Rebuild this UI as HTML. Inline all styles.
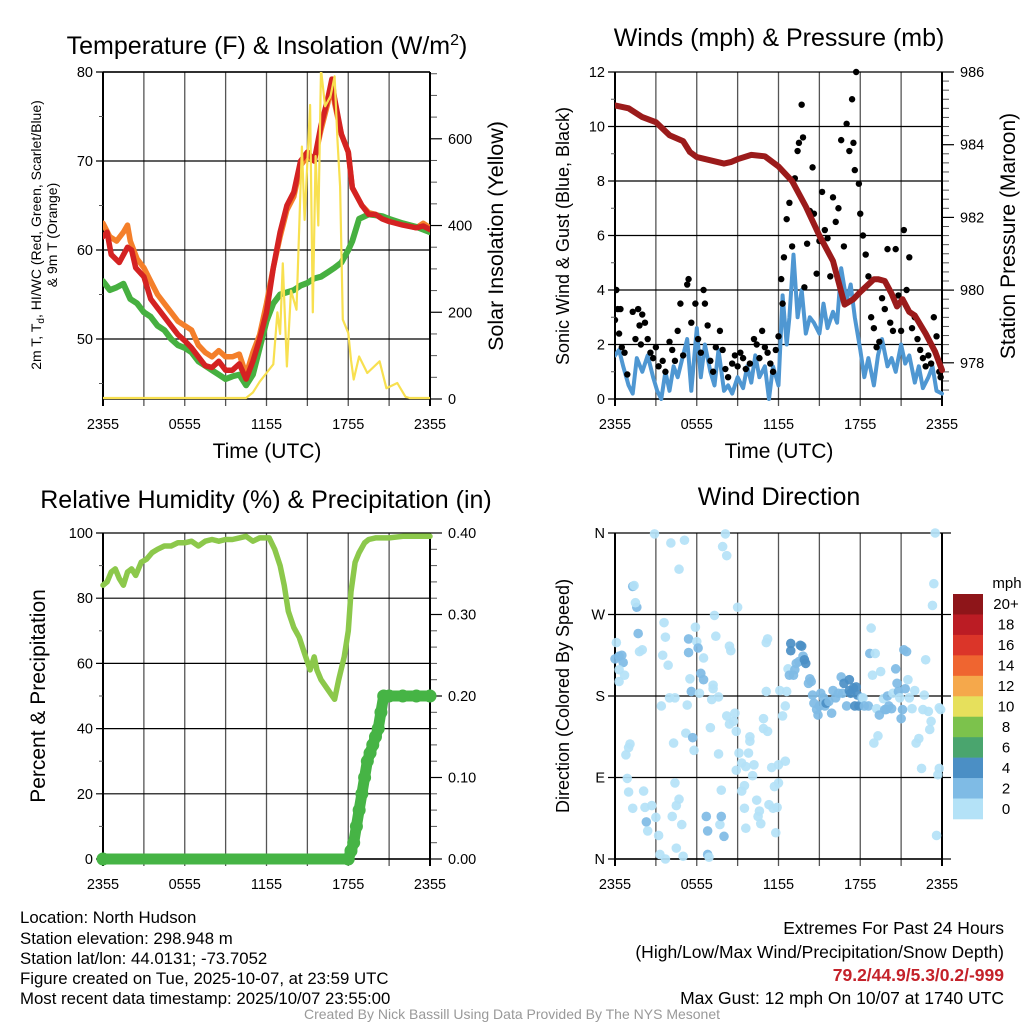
<!DOCTYPE html>
<html><head><meta charset="utf-8"><style>
body{margin:0;background:#fff;}
svg{display:block;font-family:"Liberation Sans",Arial,sans-serif;}
</style></head><body>
<svg id="s" width="1024" height="1024" viewBox="0 0 1024 1024" xmlns="http://www.w3.org/2000/svg">
<rect width="1024" height="1024" fill="#fff"/>
<g id="g1"></g>
<g id="g2"></g>
<g id="g3"></g>
<g id="g4"></g>
<text x="267" y="54" font-size="25" text-anchor="middle">Temperature (F) &amp; Insolation (W/m<tspan dy="-9" font-size="16">2</tspan><tspan dy="9">)</tspan></text>
<text x="779" y="46" font-size="25" text-anchor="middle">Winds (mph) &amp; Pressure (mb)</text>
<text x="266" y="508" font-size="25" text-anchor="middle">Relative Humidity (%) &amp; Precipitation (in)</text>
<text x="779" y="505" font-size="25" text-anchor="middle">Wind Direction</text>
<text x="267" y="458" font-size="21" text-anchor="middle">Time (UTC)</text>
<text x="779" y="458" font-size="21" text-anchor="middle">Time (UTC)</text>
<text transform="translate(41,235) rotate(-90)" font-size="14" text-anchor="middle"><tspan x="0" y="0">2m T, T<tspan font-size="10" dy="3">d</tspan><tspan dy="-3">, HI/WC (Red, Green, Scarlet/Blue)</tspan></tspan><tspan x="0" y="16">&amp; 9m T (Orange)</tspan></text>
<text transform="translate(503,236) rotate(-90)" font-size="21.5" text-anchor="middle">Solar Insolation (Yellow)</text>
<text transform="translate(569,236) rotate(-90)" font-size="18" text-anchor="middle">Sonic Wind &amp; Gust (Blue, Black)</text>
<text transform="translate(1015,236) rotate(-90)" font-size="21" text-anchor="middle">Station Pressure (Maroon)</text>
<text transform="translate(45,696) rotate(-90)" font-size="21" text-anchor="middle">Percent &amp; Precipitation</text>
<text transform="translate(569,696) rotate(-90)" font-size="18" text-anchor="middle">Direction (Colored By Speed)</text>
<g font-size="16.8">
<text x="20" y="923">Location: North Hudson</text>
<text x="20" y="944">Station elevation: 298.948 m</text>
<text x="20" y="964">Station lat/lon: 44.0131; -73.7052</text>
<text x="20" y="984">Figure created on Tue, 2025-10-07, at 23:59 UTC</text>
<text x="20" y="1004">Most recent data timestamp: 2025/10/07 23:55:00</text>
</g>
<g font-size="17.5" text-anchor="end">
<text x="1004" y="934">Extremes For Past 24 Hours</text>
<text x="1004" y="958">(High/Low/Max Wind/Precipitation/Snow Depth)</text>
<text x="1004" y="981" fill="#c4222a" font-weight="bold">79.2/44.9/5.3/0.2/-999</text>
<text x="1004" y="1004">Max Gust: 12 mph On 10/07 at 1740 UTC</text>
</g>
<text x="512" y="1019" font-size="14" fill="#999" text-anchor="middle">Created By Nick Bassill Using Data Provided By The NYS Mesonet</text>
</svg>
<script>
// ---- Temperature panel data (hours since 2355, value) ----
const tempRedH=[0,.3,.6,1.2,1.8,2.1,2.4,3,3.5,4,4.5,5,5.5,6,6.5,7,7.5,8,8.5,9,9.5,10,10.5,11,11.5,12,12.5,13,13.5,14,14.5,15,15.5,16,16.5,16.8,17,17.5,18,18.3,19,19.5,20,20.5,21,22,23,23.5,24];
const tempRedV=[61.5,62,59.5,58.6,60.3,60,58,57,54.5,53.5,52.5,51.5,50.5,49.8,49,48,47,46.8,47.5,46.5,46.5,47.2,45.5,47.5,50,53,58,62,65,66.5,70,71,70,74,77,79.2,77,73,71,67,65,64,64,63.5,63.2,62.8,62.5,62.7,62.3];
const tempOrgH=[0,.5,1,1.5,1.8,2,2.5,3,3.5,4,4.5,5,5.5,6,6.5,7,7.5,8,8.5,9,9.5,10,10.5,11,11.5,12,12.5,13,13.5,14,14.5,15,15.5,16,16.5,16.8,17,17.5,18,18.3,19,19.5,20,21,22,23,23.5,24];
const tempOrgV=[63,61.5,61,62,62.8,61,59,58,56.5,55,54,53,52,51.5,51,49.3,48.5,48,48.7,48,48,48.3,46,48.5,50.5,54,58,61.5,64.5,66,69.5,70.5,70,73.5,76.5,78.8,76.5,73,71,67,65,64.2,64,63.4,62.9,62.5,63,62.5];
const tempGrnH=[0,.5,1,1.5,2,2.5,3,3.5,4,4.5,5,5.5,6,6.5,7,7.5,8,8.5,9,9.5,10,10.5,11,11.5,12,12.5,13,14,14.5,15,15.5,16,16.5,17,17.5,18,18.3,18.8,19.5,20.5,21,22,23,24];
const tempGrnV=[56.5,55.5,55.8,56.2,54.5,54,53,52.5,51.5,51,50,49.3,49,48.5,47.5,47,46.5,46,45.5,45.8,46,44.8,46,49,52,54,55,55.5,56,56.3,56.8,57,57.5,58,58.6,60,61,63.5,64,63.8,63.5,63,62.6,62];
const solarH=[0,10.5,11,11.5,12,12.5,12.8,13,13.2,13.5,13.8,14.2,14.6,14.8,15.2,15.4,15.6,15.8,16,16.3,16.7,17,17.2,17.4,17.6,18,18.2,18.4,18.8,19.4,20.3,20.8,21.6,22.2,22.5,24];
const solarV=[0,0,15,40,60,80,200,150,313,75,250,206,582,413,678,200,560,400,760,675,698,744,600,490,183,152,90,45,98,60,87,25,37,5,0,0];
// ---- Wind panel data ----
const windH=[0,.3,.6,1,1.3,1.6,2,2.4,2.8,3.1,3.4,3.7,4,4.3,4.6,5,5.3,5.6,6,6.3,6.6,7,7.3,7.6,8,8.3,8.6,9,9.4,9.7,10,10.3,10.6,11,11.3,11.6,12,12.3,12.6,12.8,13.1,13.4,13.7,14,14.3,14.6,15,15.3,15.6,16,16.3,16.6,17,17.3,17.6,18,18.3,18.6,19,19.3,19.6,20,20.3,20.6,21,21.3,21.6,22,22.3,22.6,23,23.3,23.6,24];
const windV=[1.6,1.8,1.2,.5,.2,1.5,1,1.6,.8,.3,0,1,.3,1.2,.8,1.6,2.2,.3,2.6,.8,2,1,.5,1.8,.3,.5,.2,.8,.4,1.2,.6,1.6,.8,1.2,0,1.2,.5,3.8,2,3,5.3,3,4,2.4,3,2.8,2.4,3.5,2.6,3.2,2.8,4.8,3.6,4.2,3,1.8,.8,1.5,.5,1.6,2.2,1.2,1.5,1,2,1.3,1.6,.6,1.2,.4,.8,1.2,.3,.2];
const gustH=[0,.1,.2,.3,.4,.5,.7,.9,1.3,1.5,1.7,1.8,1.9,2,2.2,2.4,2.6,2.8,3,3.2,3.5,3.7,4,4.2,4.4,4.6,4.8,5,5.3,5.4,5.6,5.9,6.1,6.3,6.5,6.6,6.8,7,7.2,7.4,7.7,7.9,8.1,8.3,8.6,8.8,9,9.2,9.4,9.6,9.9,10.2,10.4,10.6,10.8,11,11.2,11.4,11.6,11.8,12,12.2,12.3,12.4,12.6,12.8,13,13.2,13.4,13.5,13.7,13.8,13.9,14.1,14.3,14.5,14.6,14.8,15,15.2,15.4,15.6,15.8,16,16.2,16.4,16.6,16.8,17,17.2,17.4,17.5,17.6,17.7,17.9,18,18.2,18.4,18.6,18.8,19,19.2,19.4,19.6,19.8,20,20.2,20.4,20.6,20.8,21,21.2,21.4,21.6,21.8,22,22.2,22.4,22.6,22.8,23,23.2,23.4,23.6,23.8,23.9];
const gustV=[2.9,4,3.3,2.4,3.3,1.9,1.7,.9,3.2,2.2,3.3,2.7,2,3.1,2.8,2.2,1.7,1.5,1.9,1.2,1.4,1,2.1,1.8,1.4,2.5,3.5,1.6,4.2,4.4,2.8,3.5,2.2,1.7,4,3.5,2.7,1.4,1,1.9,2.5,1.8,1.1,.8,1.3,1.6,1.2,1.7,1.5,1.1,1.3,2.2,2,1.5,2.5,1.9,1.7,1.3,1,1.8,2.3,4.4,3.5,5.2,6.6,7.2,5.6,8.1,9.1,9.4,10.8,9.6,4.1,5.7,6.9,8.5,6.8,4.6,5.8,7.6,6.2,5.9,4.5,7.4,6.5,7,9.5,5.6,10.1,9.1,11,9.4,8.4,12,7.9,6.8,6,5.3,4.5,3,2.6,1.9,2.1,3.7,3.3,5.5,2.8,2.5,5.5,3.8,2.5,6.2,4,5.2,2.6,3,2.2,1.8,1.5,1.2,1.6,1.3,3,2.3,1,.8];
const presH=[0,1,2,3,4,5,5.5,6,7,8,8.5,9,10,11,12,13,14,15,16,16.85,17.5,18,19,19.3,19.8,20.3,20.7,21.1,21.6,22,22.8,23.5,24];
const presV=[985.08,985.0,984.76,984.62,984.26,984.1,983.8,983.66,983.57,983.48,983.52,983.6,983.72,983.68,983.4,983.0,982.3,981.5,980.8,979.6,979.75,979.95,980.3,980.3,980.25,979.9,979.55,979.75,979.4,979.3,978.8,978.3,977.8];
// ---- Humidity panel data ----
const rhH=[0,.3,.6,.9,1.2,1.5,1.8,2.1,2.4,2.8,3.2,3.6,4,4.5,5,5.5,6,6.5,7,7.5,8,8.5,9,9.5,10,10.5,11,11.5,12.2,12.6,13,13.3,13.6,14,14.4,14.8,15.2,15.5,15.7,16,16.5,17,17.3,17.7,18,18.2,18.5,18.8,19.2,19.5,20,21,22,24];
const rhV=[84,85,88,89,86,84,88,89,87,91,92,94,95,96,96,97,97,97.5,96,97.5,98,97.5,98,98,98.5,99,97.5,98.5,98.5,95,90,84,76,71,68,63,58,62,58,55,52,49,55,62,70,82,91,94,97,98,98.5,98.5,99,99];
const precipH=[0,18,18.2,18.4,18.6,18.8,19,19.2,19.4,19.6,19.8,20,20.2,20.4,20.6,21,22,23,24];
const precipV=[0,0,.01,.02,.04,.06,.08,.1,.12,.13,.14,.15,.16,.18,.2,.2,.2,.2,.2];
// ---- Wind direction data ----
const dirH=[0,.1,.3,.5,.6,.3,.3,.7,1.3,1.4,1.6,1.5,1.7,1.8,2,.8,1,1.1,.9,1,1.3,2.1,2.2,2.3,2.4,2.7,3,3.2,2.9,3.3,3.7,3.4,3.6,3.7,3.9,3.5,4.1,5.1,4.7,4,4.4,4.3,4.4,4.7,4.5,4.2,4.9,4.5,5,5.2,5.3,5.4,5.4,5.6,5.5,5.7,5.8,5.9,6,6.1,6.2,6.3,6.5,6.5,6.7,6.8,6.8,6.9,7,7.1,7.2,7.2,7.3,7.4,7.6,7.6,7.7,7.8,7.8,8,7.9,8.1,8.2,8.2,8.4,8.5,8.4,8.7,8.8,8.9,8.9,9,9.1,9.3,9.3,9.5,9.5,9.6,9.6,9.8,9.9,9.9,10.1,10.2,10.4,10.5,10.6,10.7,10.9,10.9,11.1,11.1,11.2,11.2,11.3,11.5,11.6,11.7,11.8,11.9,12,12,12.1,12.3,12.5,12.5,12.6,12.7,12.8,12.9,12.9,13.1,13.2,13.3,13.5,13.6,13.7,13.8,13.9,14,14.2,14.3,14.4,14.5,14.6,14.8,14.9,15,15.1,15.3,15.4,15.5,15.7,15.9,16,16.2,16.4,16.6,16.7,16.8,17,17.2,17.2,17.3,17.5,17.6,17.7,17.8,17.9,18.1,18.2,18.3,18.6,18.7,18.8,18.9,19,19.1,19.2,19.3,19.4,19.5,19.7,19.8,19.9,20,20.1,20.3,20.4,20.6,20.7,20.8,20.9,21,21.1,21.2,21.3,21.4,21.5,21.6,21.8,22,22.1,22.3,22.5,22.6,22.7,22.8,23,23.1,23.2,23.3,23.4,23.5,23.6,23.7,23.8,23.8,23.9];
const dirDeg=[221,239,224,225,217,209,196,203,301,302,278,283,249,229,231,115,123,127,89,74,56,75,57,41,31,59,46,26,359,5,0,169,261,245,214,225,349,352,320,178,178,128,84,66,59,47,38,12,3,139,170,243,228,185,199,134,120,256,240,233,183,205,198,222,47,31,5,2,145,176,192,188,269,246,179,116,38,47,76,25,345,359,335,158,235,230,149,152,161,98,141,278,117,106,75,56,81,34,102,117,130,135,92,104,65,47,53,39,155,144,185,239,243,141,60,101,56,80,29,57,84,104,186,158,169,108,185,210,203,230,238,203,209,216,218,236,235,224,220,216,194,199,196,181,172,165,159,169,183,178,169,172,174,161,186,178,183,201,183,194,169,198,186,183,189,169,190,181,169,178,178,169,169,227,255,203,128,227,166,136,159,207,177,165,165,180,169,166,183,210,194,185,178,155,165,231,188,229,198,178,166,186,128,133,100,165,181,220,163,143,152,280,304,360,26,93,100,167,165];
const dirSpd=[3,1,3,3,3,1,1,1,3,1,3,1,3,1,1,1,1,1,1,1,1,1,1,3,1,1,1,1,1,1,1,1,1,1,1,1,1,1,1,1,1,1,1,1,1,1,1,1,1,1,1,3,3,3,1,3,1,1,1,3,1,3,3,1,3,3,3,1,1,1,1,1,1,1,1,1,1,3,1,3,1,1,1,1,1,1,1,1,1,1,1,1,1,1,1,1,1,1,1,1,1,1,1,1,1,1,1,1,1,1,1,1,1,1,1,1,1,1,1,1,1,1,1,1,1,1,1,1,3,5,5,3,3,3,3,5,5,3,5,5,3,3,3,3,3,3,3,3,3,3,3,5,3,3,3,3,3,3,3,5,3,5,5,5,5,5,5,5,5,3,1,3,3,3,1,1,1,1,1,1,3,1,1,3,3,3,3,3,1,3,3,3,1,3,3,3,3,3,1,1,1,1,1,1,1,1,1,1,1,1,1,1,1,1,1,1,1,1,1];
const spdLevels=["20+","18","16","14","12","10","8","6","4","2","0"];
const spdColors=["#8e1519","#bb1c24","#db3529","#ef6530","#f5a84b","#e6e05c","#7cc24c","#4aa56e","#4b8fc5","#7fbbe5","#b4e2f7"];
const timeLabels=["2355","0555","1155","1755","2355"];

const NS="http://www.w3.org/2000/svg";
function mk(p,tag,attrs){const e=document.createElementNS(NS,tag);for(const k in attrs)e.setAttribute(k,attrs[k]);p.appendChild(e);return e;}
function txt(p,x,y,s,size,anchor){const t=mk(p,'text',{x:x,y:y,'font-size':size,'text-anchor':anchor});t.textContent=s;return t;}
const L1=103,R1=430,L2=615,R2=942,T1=72,B1=399,T2=533,B2=859;
function xs(L,R){return h=>L+h/24*(R-L);}
function ys(T,B,lo,hi){return v=>B-(v-lo)/(hi-lo)*(B-T);}
function frame(g,L,R,T,B,leftTicks,rightTicks,leftMinor,rightMinor,xlab){
  for(let i=0;i<=8;i++){const x=L+i*(R-L)/8;
    const l=mk(g,'line',{x1:x,x2:x,y1:T,y2:B+7,stroke:i%8==0?'#000':'#555','stroke-width':i%8==0?2:1.3});
    
    }
  leftTicks.forEach(([y,s])=>{const l=mk(g,'line',{x1:L-7,x2:R,y1:y,y2:y,stroke:'#000','stroke-width':1.2});
    
    
    const t=txt(g,L-10,y+5,s,14.5,'end');
    
    });
  leftMinor.forEach(y=>mk(g,'line',{x1:L-4,x2:L,y1:y,y2:y,stroke:'#555','stroke-width':1}));
  rightTicks.forEach(([y,s])=>{mk(g,'line',{x1:R,x2:R+12,y1:y,y2:y,stroke:'#000','stroke-width':1.2});
    const t=txt(g,R+18,y+5,s,14.5,'start');
    
    });
  rightMinor.forEach(y=>mk(g,'line',{x1:R,x2:R+7,y1:y,y2:y,stroke:'#555','stroke-width':1}));
  mk(g,'line',{x1:L,x2:R,y1:B,y2:B,stroke:'#000','stroke-width':1.5});
  mk(g,'line',{x1:R,x2:R,y1:T,y2:B,stroke:'#000','stroke-width':2});
  xlab.forEach((s,i)=>{const t=txt(g,L+i*(R-L)/4,B+30,s,14.5,'middle');
    
    });
}
function line(g,H,V,x,y,col,w,name){const d=H.map((h,i)=>(i?'L':'M')+x(h).toFixed(1)+','+y(V[i]).toFixed(1)).join('');
  const p=mk(g,'path',{d:d,fill:'none',stroke:col,'stroke-width':w,'stroke-linejoin':'round','stroke-linecap':'round'});
  
  return p;}

// Panel 1
(function(){const g=document.getElementById('g1');const x=xs(L1,R1);
  const yt=v=>B1-(v-43.26)/(80-43.26)*(B1-T1);const ys2=v=>B1-v/754*(B1-T1);
  const lt=[50,60,70,80].map(v=>[yt(v),String(v)]);
  const lm=[45,55,65,75].map(yt);
  const rt=[0,200,400,600].map(v=>[ys2(v),String(v)]);
  const rm=[50,100,150,250,300,350,450,500,550,650,700,750].map(ys2);
  frame(g,L1,R1,T1,B1,lt,rt,lm,rm,timeLabels);
  mk(g,'line',{x1:L1,x2:R1,y1:T1,y2:T1,stroke:'#000','stroke-width':1.5});
  const clip=mk(g,'clipPath',{id:'c1'});mk(clip,'rect',{x:L1,y:T1,width:R1-L1,height:B1-T1+2});
  const pg=mk(g,'g',{'clip-path':'url(#c1)'});
  line(pg,tempOrgH,tempOrgV,x,yt,'#f47f2a',5.5,'temp-9m-line');
  line(pg,tempGrnH,tempGrnV,x,yt,'#46b040',6,'dewpoint-line');
  line(pg,tempRedH,tempRedV,x,yt,'#d42222',5.5,'temp-2m-line');
  line(pg,solarH,solarV,x,v=>Math.min(ys2(v),B1-1),'#f8e050',2.2,'solar-line');
})();
// Panel 2
(function(){const g=document.getElementById('g2');const x=xs(L2,R2);const yw=ys(T1,B1,0,12);
  const yp=v=>T1+(986-v)/2*72.7;
  const lt=[0,2,4,6,8,10,12].map(v=>[yw(v),String(v)]);
  const lm=[1,3,5,7,9,11].map(yw);
  const rt=[978,980,982,984,986].map(v=>[yp(v),String(v)]);
  const rm=[];for(let v=977.25;v<986;v+=0.25){if(Math.abs(v-Math.round(v/2)*2)>0.01)rm.push(yp(v));}
  frame(g,L2,R2,T1,B1,lt,rt,lm,rm.filter(y=>y<B1),timeLabels);
  const clip=mk(g,'clipPath',{id:'c2'});mk(clip,'rect',{x:L2,y:T1-4,width:R2-L2+4,height:B1-T1+6});
  const pg=mk(g,'g',{'clip-path':'url(#c2)'});
  line(pg,windH,windV,x,yw,'#4f97d2',4,'sonic-wind-line');
  gustH.forEach((h,i)=>{const c=mk(pg,'circle',{cx:x(h),cy:yw(gustV[i]),r:3.2,fill:'#000'});
    
    });
  line(pg,presH,presV,x,yp,'#9b1b1b',6,'pressure-line');
})();
// Panel 3
(function(){const g=document.getElementById('g3');const x=xs(L1,R1);const yr=ys(T2,B2,0,100);const yq=ys(T2,B2,0,0.4);
  const lt=[0,20,40,60,80,100].map(v=>[yr(v),String(v)]);
  const lm=[10,30,50,70,90].map(yr);
  const rt=[0,.1,.2,.3,.4].map(v=>[yq(v),v.toFixed(2)]);
  const rm=[];for(let v=0.02;v<0.4;v+=0.02){if(Math.abs(v*10-Math.round(v*10))>0.01)rm.push(yq(v));}
  frame(g,L1,R1,T2,B2,lt,rt,lm,rm,timeLabels);
  line(g,rhH,rhV,x,yr,'#8cc84b',5.5,'humidity-line');
  line(g,precipH,precipV,x,yq,'#46b445',11,'precip-line');
  precipH.forEach((h,i)=>{const c=mk(g,'circle',{cx:x(h),cy:yq(precipV[i]),r:6.5,fill:'#46b445'});
    
    });
})();
// Panel 4
(function(){const g=document.getElementById('g4');const x=xs(L2,R2);const yd=ys(T2,B2,0,360);
  const lt=[[0,'N'],[90,'E'],[180,'S'],[270,'W'],[360,'N']].map(([v,s])=>[yd(v),s]);
  frame(g,L2,R2,T2,B2,lt,[],[],[],timeLabels);
  [90,180,270,0,360].forEach(v=>mk(g,'line',{x1:R2,x2:R2+9,y1:yd(v),y2:yd(v),stroke:'#000','stroke-width':1.2}));
  function col(s){const idx=Math.min(10,Math.floor(s/2));return spdColors[10-idx];}
  dirH.forEach((h,i)=>{const c=mk(g,'circle',{cx:x(h),cy:yd(dirDeg[i]),r:4.8,fill:col(dirSpd[i]),'fill-opacity':0.92});
    
    });
  const lg=mk(g,'g',{});
  
  
  txt(lg,1007,588,'mph',15,'middle');
  const bh=(819-594)/11;
  spdLevels.forEach((s,i)=>{mk(lg,'rect',{x:953,y:594+i*bh,width:30,height:bh+0.3,fill:spdColors[i]});
    txt(lg,1006,594+i*bh+bh/2+5,s,15,'middle');});
})();
</script>
</body></html>
